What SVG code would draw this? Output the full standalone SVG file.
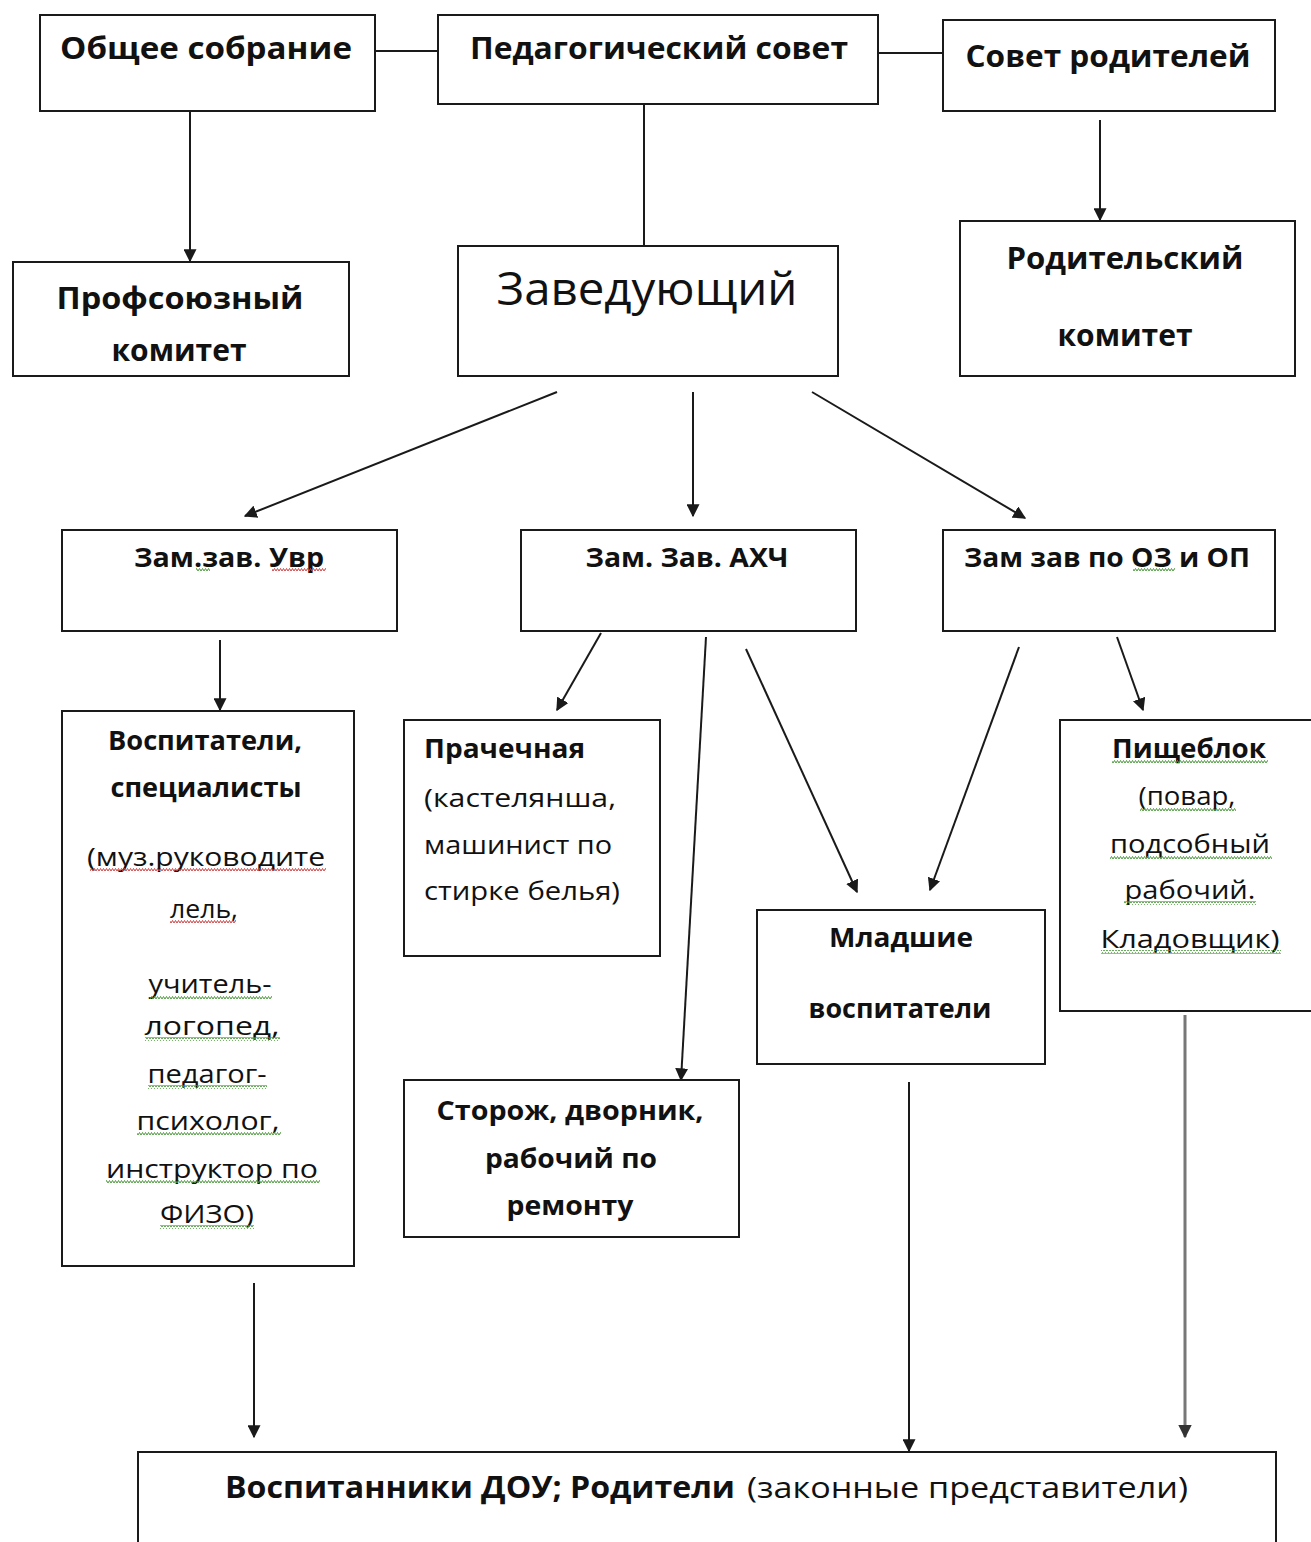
<svg xmlns="http://www.w3.org/2000/svg" width="1311" height="1542" viewBox="0 0 1311 1542">
<style>
.box{fill:#fff;stroke:#1a1a1a;stroke-width:2}
.t{font-family:"Open Sans","Noto Sans","Liberation Sans",sans-serif;fill:#111;text-anchor:middle}
.b{font-weight:bold}
.l{text-anchor:start}
.c{stroke:#1a1a1a;stroke-width:2;fill:none}
.g{stroke:#777;stroke-width:3;fill:none}
.wr{fill:url(#wavR)}
.wg{fill:url(#wavG)}
</style>
<defs>
<marker id="ah" viewBox="0 0 10 10" refX="9" refY="5" markerWidth="6.5" markerHeight="6.5" orient="auto" markerUnits="strokeWidth">
<path d="M0,0 L10,5 L0,10 z" fill="#1a1a1a"/>
</marker>
<marker id="ahg" viewBox="0 0 10 10" refX="9" refY="5" markerWidth="4.5" markerHeight="4.5" orient="auto" markerUnits="strokeWidth">
<path d="M0,0 L10,5 L0,10 z" fill="#333"/>
</marker>
<pattern id="wavR" width="6" height="4" patternUnits="userSpaceOnUse">
<path d="M0,3 L1.5,0.5 L3,3 L4.5,0.5 L6,3" fill="none" stroke="#d04040" stroke-width="1"/>
</pattern>
<pattern id="wavG" width="6" height="4" patternUnits="userSpaceOnUse">
<path d="M0,3 L1.5,0.5 L3,3 L4.5,0.5 L6,3" fill="none" stroke="#4a9a3a" stroke-width="1"/>
</pattern>
</defs>

<g id="connectors">
<line class="c" x1="375" y1="51" x2="438" y2="51"/>
<line class="c" x1="878" y1="53" x2="943" y2="53"/>
<line class="c" x1="190" y1="111" x2="190" y2="261" marker-end="url(#ah)"/>
<line class="c" x1="644" y1="104" x2="644" y2="246"/>
<line class="c" x1="1100" y1="120" x2="1100" y2="220" marker-end="url(#ah)"/>
<line class="c" x1="557" y1="392" x2="245" y2="516" marker-end="url(#ah)"/>
<line class="c" x1="693" y1="392" x2="693" y2="516" marker-end="url(#ah)"/>
<line class="c" x1="812" y1="392" x2="1025" y2="518" marker-end="url(#ah)"/>
<line class="c" x1="220" y1="640" x2="220" y2="710" marker-end="url(#ah)"/>
<line class="c" x1="601" y1="633" x2="557" y2="710" marker-end="url(#ah)"/>
<line class="c" x1="706" y1="637" x2="681" y2="1080" marker-end="url(#ah)"/>
<line class="c" x1="746" y1="649" x2="857" y2="892" marker-end="url(#ah)"/>
<line class="c" x1="1019" y1="647" x2="930" y2="890" marker-end="url(#ah)"/>
<line class="c" x1="1117" y1="637" x2="1143" y2="710" marker-end="url(#ah)"/>
<line class="c" x1="254" y1="1283" x2="254" y2="1437" marker-end="url(#ah)"/>
<line class="c" x1="909" y1="1082" x2="909" y2="1451" marker-end="url(#ah)"/>
<line class="g" x1="1185" y1="1015" x2="1185" y2="1437" marker-end="url(#ahg)"/>
</g>

<g id="obshchee">
<rect class="box" x="40" y="15" width="335" height="96"/>
<text class="t b" x="206" y="59" font-size="30" textLength="292" lengthAdjust="spacingAndGlyphs">Общее собрание</text>
</g>
<g id="pedsovet">
<rect class="box" x="438" y="15" width="440" height="89"/>
<text class="t b" x="659" y="59" font-size="30" textLength="378" lengthAdjust="spacingAndGlyphs">Педагогический совет</text>
</g>
<g id="sovet-roditeley">
<rect class="box" x="943" y="20" width="332" height="91"/>
<text class="t b" x="1108" y="67" font-size="30" textLength="285" lengthAdjust="spacingAndGlyphs">Совет родителей</text>
</g>
<g id="profkom">
<rect class="box" x="13" y="262" width="336" height="114"/>
<text class="t b" x="180" y="309" font-size="30" textLength="247" lengthAdjust="spacingAndGlyphs">Профсоюзный</text>
<text class="t b" x="179" y="361" font-size="30" textLength="135" lengthAdjust="spacingAndGlyphs">комитет</text>
</g>
<g id="zaveduyushchiy">
<rect class="box" x="458" y="246" width="380" height="130"/>
<text class="t" x="647" y="305" font-size="46" textLength="301" lengthAdjust="spacingAndGlyphs">Заведующий</text>
</g>
<g id="rodkom">
<rect class="box" x="960" y="221" width="335" height="155"/>
<text class="t b" x="1125" y="269" font-size="30" textLength="237" lengthAdjust="spacingAndGlyphs">Родительский</text>
<text class="t b" x="1125" y="346" font-size="30" textLength="135" lengthAdjust="spacingAndGlyphs">комитет</text>
</g>
<g id="zam-uvr">
<rect class="box" x="62" y="530" width="335" height="101"/>
<text class="t b" x="229" y="567" font-size="26" textLength="190" lengthAdjust="spacingAndGlyphs">Зам.зав. Увр</text>
<rect class="wg" x="196" y="568" width="14" height="4"/>
<rect class="wr" x="272" y="568" width="54" height="4"/>
</g>
<g id="zam-ahch">
<rect class="box" x="521" y="530" width="335" height="101"/>
<text class="t b" x="687" y="567" font-size="26" textLength="203" lengthAdjust="spacingAndGlyphs">Зам. Зав. АХЧ</text>
</g>
<g id="zam-oz">
<rect class="box" x="943" y="530" width="332" height="101"/>
<text class="t b" x="1107" y="567" font-size="26" textLength="286" lengthAdjust="spacingAndGlyphs">Зам зав по ОЗ и ОП</text>
<rect class="wg" x="1133" y="568" width="42" height="4"/>
</g>
<g id="vospitateli">
<rect class="box" x="62" y="711" width="292" height="555"/>
<text class="t b" x="205" y="750" font-size="26" textLength="194" lengthAdjust="spacingAndGlyphs">Воспитатели,</text>
<text class="t b" x="206" y="797" font-size="26" textLength="191" lengthAdjust="spacingAndGlyphs">специалисты</text>
<text class="t" x="206" y="866" font-size="26" textLength="238" lengthAdjust="spacingAndGlyphs">(муз.руководите</text>
<rect class="wr" x="90" y="868" width="236" height="4"/>
<text class="t" x="204" y="918" font-size="26" textLength="68" lengthAdjust="spacingAndGlyphs">лель,</text>
<rect class="wr" x="170" y="920" width="66" height="4"/>
<text class="t" x="210" y="993" font-size="26" textLength="123" lengthAdjust="spacingAndGlyphs">учитель-</text>
<rect class="wg" x="150" y="995" width="122" height="4"/>
<text class="t" x="212" y="1035" font-size="26" textLength="135" lengthAdjust="spacingAndGlyphs">логопед,</text>
<rect class="wg" x="145" y="1037" width="135" height="4"/>
<text class="t" x="207" y="1083" font-size="26" textLength="119" lengthAdjust="spacingAndGlyphs">педагог-</text>
<rect class="wg" x="148" y="1085" width="119" height="4"/>
<text class="t" x="208" y="1130" font-size="26" textLength="143" lengthAdjust="spacingAndGlyphs">психолог,</text>
<rect class="wg" x="137" y="1132" width="144" height="4"/>
<text class="t" x="212" y="1178" font-size="26" textLength="212" lengthAdjust="spacingAndGlyphs">инструктор по</text>
<rect class="wg" x="106" y="1180" width="214" height="4"/>
<text class="t" x="207" y="1223" font-size="26" textLength="94" lengthAdjust="spacingAndGlyphs">ФИЗО)</text>
<rect class="wg" x="160" y="1225" width="94" height="4"/>
</g>
<g id="prachechnaya">
<rect class="box" x="404" y="720" width="256" height="236"/>
<text class="t b l" x="424" y="758" font-size="26" textLength="161" lengthAdjust="spacingAndGlyphs">Прачечная</text>
<text class="t l" x="424" y="807" font-size="26" textLength="192" lengthAdjust="spacingAndGlyphs">(кастелянша,</text>
<text class="t l" x="424" y="854" font-size="26" textLength="188" lengthAdjust="spacingAndGlyphs">машинист по</text>
<text class="t l" x="424" y="900" font-size="26" textLength="196" lengthAdjust="spacingAndGlyphs">стирке белья)</text>
</g>
<g id="storozh">
<rect class="box" x="404" y="1080" width="335" height="157"/>
<text class="t b" x="570" y="1120" font-size="26" textLength="267" lengthAdjust="spacingAndGlyphs">Сторож, дворник,</text>
<text class="t b" x="571" y="1168" font-size="26" textLength="172" lengthAdjust="spacingAndGlyphs">рабочий по</text>
<text class="t b" x="570" y="1215" font-size="26" textLength="127" lengthAdjust="spacingAndGlyphs">ремонту</text>
</g>
<g id="mladshie">
<rect class="box" x="757" y="910" width="288" height="154"/>
<text class="t b" x="901" y="947" font-size="26" textLength="144" lengthAdjust="spacingAndGlyphs">Младшие</text>
<text class="t b" x="900" y="1018" font-size="26" textLength="183" lengthAdjust="spacingAndGlyphs">воспитатели</text>
</g>
<g id="pishcheblok">
<rect class="box" x="1060" y="720" width="270" height="291"/>
<text class="t b" x="1189" y="758" font-size="26" textLength="154" lengthAdjust="spacingAndGlyphs">Пищеблок</text>
<rect class="wg" x="1112" y="760" width="156" height="4"/>
<text class="t" x="1187" y="805" font-size="26" textLength="97" lengthAdjust="spacingAndGlyphs">(повар,</text>
<rect class="wg" x="1140" y="807" width="96" height="4"/>
<text class="t" x="1190" y="853" font-size="26" textLength="160" lengthAdjust="spacingAndGlyphs">подсобный</text>
<rect class="wg" x="1110" y="855" width="162" height="4"/>
<text class="t" x="1190" y="899" font-size="26" textLength="131" lengthAdjust="spacingAndGlyphs">рабочий.</text>
<rect class="wg" x="1124" y="901" width="132" height="4"/>
<text class="t" x="1190" y="948" font-size="26" textLength="179" lengthAdjust="spacingAndGlyphs">Кладовщик)</text>
<rect class="wg" x="1101" y="950" width="180" height="4"/>
</g>
<g id="vospitanniki">
<rect class="box" x="138" y="1452" width="1138" height="110"/>
<text class="t l" x="225" y="1498" font-size="30"><tspan class="b" textLength="510" lengthAdjust="spacingAndGlyphs">Воспитанники ДОУ; Родители</tspan><tspan x="747" textLength="441" lengthAdjust="spacingAndGlyphs">(законные представители)</tspan></text>
</g>
</svg>
